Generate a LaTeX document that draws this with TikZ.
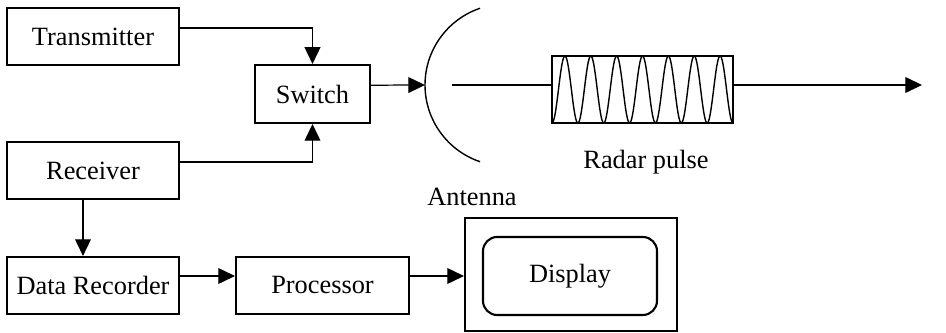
\documentclass[tikz,border=0pt]{standalone}
\usepackage{fontspec}
\setmainfont{Liberation Serif}
\usetikzlibrary{arrows.meta}

\begin{document}
\begin{tikzpicture}[x=0.02cm, y=0.02cm,
        blk/.style={draw, line width=1.2pt, inner sep=0pt, minimum height=1.14cm,
            font=\fontsize{15}{17}\selectfont},
        arr/.style={-{Triangle[length=9.5pt, width=9pt]}, line width=0.7pt}]
    \useasboundingbox (0,0) rectangle (946,333);
    % bloques
    \node[blk, minimum width=3.44cm] (tx) at (93,296.5) {Transmitter};
    \node[blk, minimum width=2.3cm, minimum height=1.16cm] (sw) at (312.5,239) {Switch};
    \node[blk, minimum width=3.44cm] (rx) at (93,162.5) {Receiver};
    \node[blk, minimum width=3.44cm] (dr) at (93,47.5) {Data Recorder};
    \node[blk, minimum width=3.46cm] (pr) at (322.5,47.5) {Processor};
    \node[draw, line width=1.2pt, minimum width=4.24cm, minimum height=2.26cm] (disp) at (571,58.5) {};
    \node[draw, line width=1.2pt, rounded corners=8pt, minimum width=3.48cm, minimum height=1.56cm,
        font=\fontsize{15}{17}\selectfont] (scr) at (570,57) {Display};
    % conexiones
    \draw[arr] ([yshift=4.8pt]tx.east) -| (sw.north);
    \draw[arr] ([yshift=4.8pt]rx.east) -| (sw.south);
    \draw[arr] ([xshift=-5.7pt]rx.south) -- ([xshift=-5.7pt]dr.north);
    \draw[arr] ([yshift=5.4pt]dr.east) -- ([yshift=5.4pt]dr.east -| pr.west);
    \draw[arr] ([yshift=5.4pt]pr.east) -- ([yshift=5.4pt]pr.east -| disp.west);
    % antena
    \coordinate (ant) at (425,248);
    \draw[arr] ([yshift=5pt]sw.east) -- (ant);
    \draw[line width=0.8pt] (ant) arc[start angle=180, end angle=108.7, radius=81];
    \draw[line width=0.8pt] (ant) arc[start angle=180, end angle=251.3, radius=81];
    \node[font=\fontsize{15}{17}\selectfont] (antlbl) at (472,136) {Antenna};
    % pulso de radar
    \node[draw, line width=0.8pt, minimum width=3.62cm, minimum height=1.34cm] (pulse) at (642.5,243.5) {};
    \coordinate (feed) at (452,248);
    \coordinate (out) at (922,248);
    \draw[line width=1pt] (feed) -- (feed -| pulse.west);
    \draw[arr] (feed -| pulse.east) -- (out);
    \draw[line width=0.8pt, domain=552:733, samples=300, smooth]
        plot (\x, {243.5-33.5*cos((\x-552)/181*7*360)});
    \node[font=\fontsize{15}{17}\selectfont] (plbl) at (646,171) {Radar pulse};
\end{tikzpicture}
\end{document}
